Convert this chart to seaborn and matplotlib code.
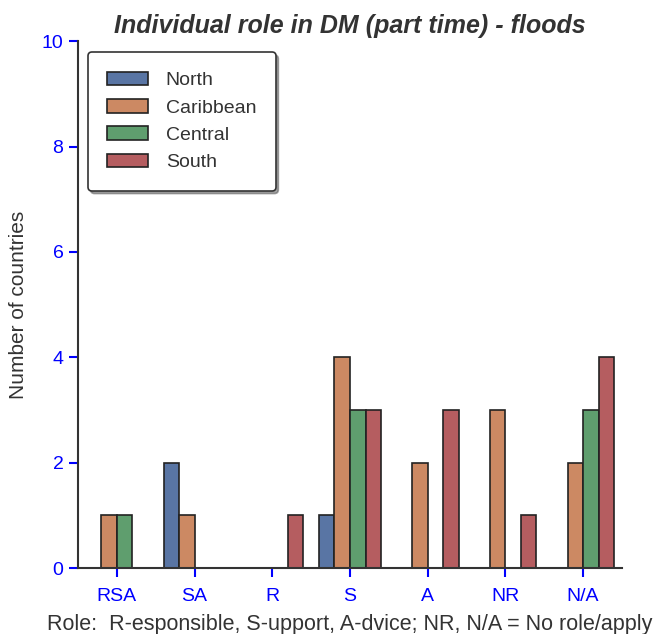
import pandas as pd
import seaborn as sns
from matplotlib import pyplot as plt

roles = ['RSA', 'SA', 'R', 'S', 'A', 'NR', 'N/A']
regions = ['North', 'Caribbean', 'Central', 'South']
north = [0, 2, 0, 1, 0, 0, 0]
caribbean = [1, 1, 0, 4, 2, 3, 2]
central = [1, 0, 0, 3, 0, 0, 3]
south = [0, 0, 1, 3, 3, 1, 4]

counts = {'North': north, 'Caribbean': caribbean, 'Central': central, 'South': south}
rows = []
for reg in regions:
    for role, v in zip(roles, counts[reg]):
        rows.append({'role': role, 'region': reg, 'count': v})
df = pd.DataFrame(rows)

sns.set_style('white')
plt.rcParams['font.family'] = ['Liberation Sans', 'DejaVu Sans']

fig = plt.figure(figsize=(6.56, 6.34), dpi=100)
ax = fig.add_axes([0.119, 0.104, 0.829, 0.831])

sns.barplot(data=df, x='role', y='count', hue='region', order=roles,
            hue_order=regions, palette='deep', saturation=0.75,
            edgecolor='#222222', linewidth=1.2, ax=ax)

ax.set_ylim(0, 10)
ax.set_xlim(-0.5, 6.5)
ax.set_yticks([0, 2, 4, 6, 8, 10])
ax.tick_params(axis='both', colors='blue', labelsize=14, length=6.5, width=1.5,
               direction='out', left=True, bottom=True, pad=4)
ax.tick_params(axis='x', pad=8)
for side in ['top', 'right']:
    ax.spines[side].set_visible(False)
for side in ['left', 'bottom']:
    ax.spines[side].set_color('#333333')
    ax.spines[side].set_linewidth(1.5)

ax.set_title('Individual role in DM (part time) - floods', fontsize=18,
             fontweight='bold', fontstyle='italic', color='#333333', pad=6)
ax.set_ylabel('Number of countries', fontsize=15, color='#333333', labelpad=10)
ax.set_xlabel('Role:  R-esponsible, S-upport, A-dvice; NR, N/A = No role/apply',
              fontsize=15.5, color='#333333', labelpad=6)

leg = ax.legend(loc='upper left', bbox_to_anchor=(0.018, 0.979), borderaxespad=0,
                fontsize=14, frameon=True, shadow=True, fancybox=True,
                borderpad=1.0, labelspacing=0.5, handlelength=2.1,
                handletextpad=0.9)
leg.get_frame().set_edgecolor('#333333')
leg.get_frame().set_linewidth(1.2)
for t in leg.get_texts():
    t.set_color('#333333')

fig.savefig('out.png', dpi=100)
plt.close(fig)
